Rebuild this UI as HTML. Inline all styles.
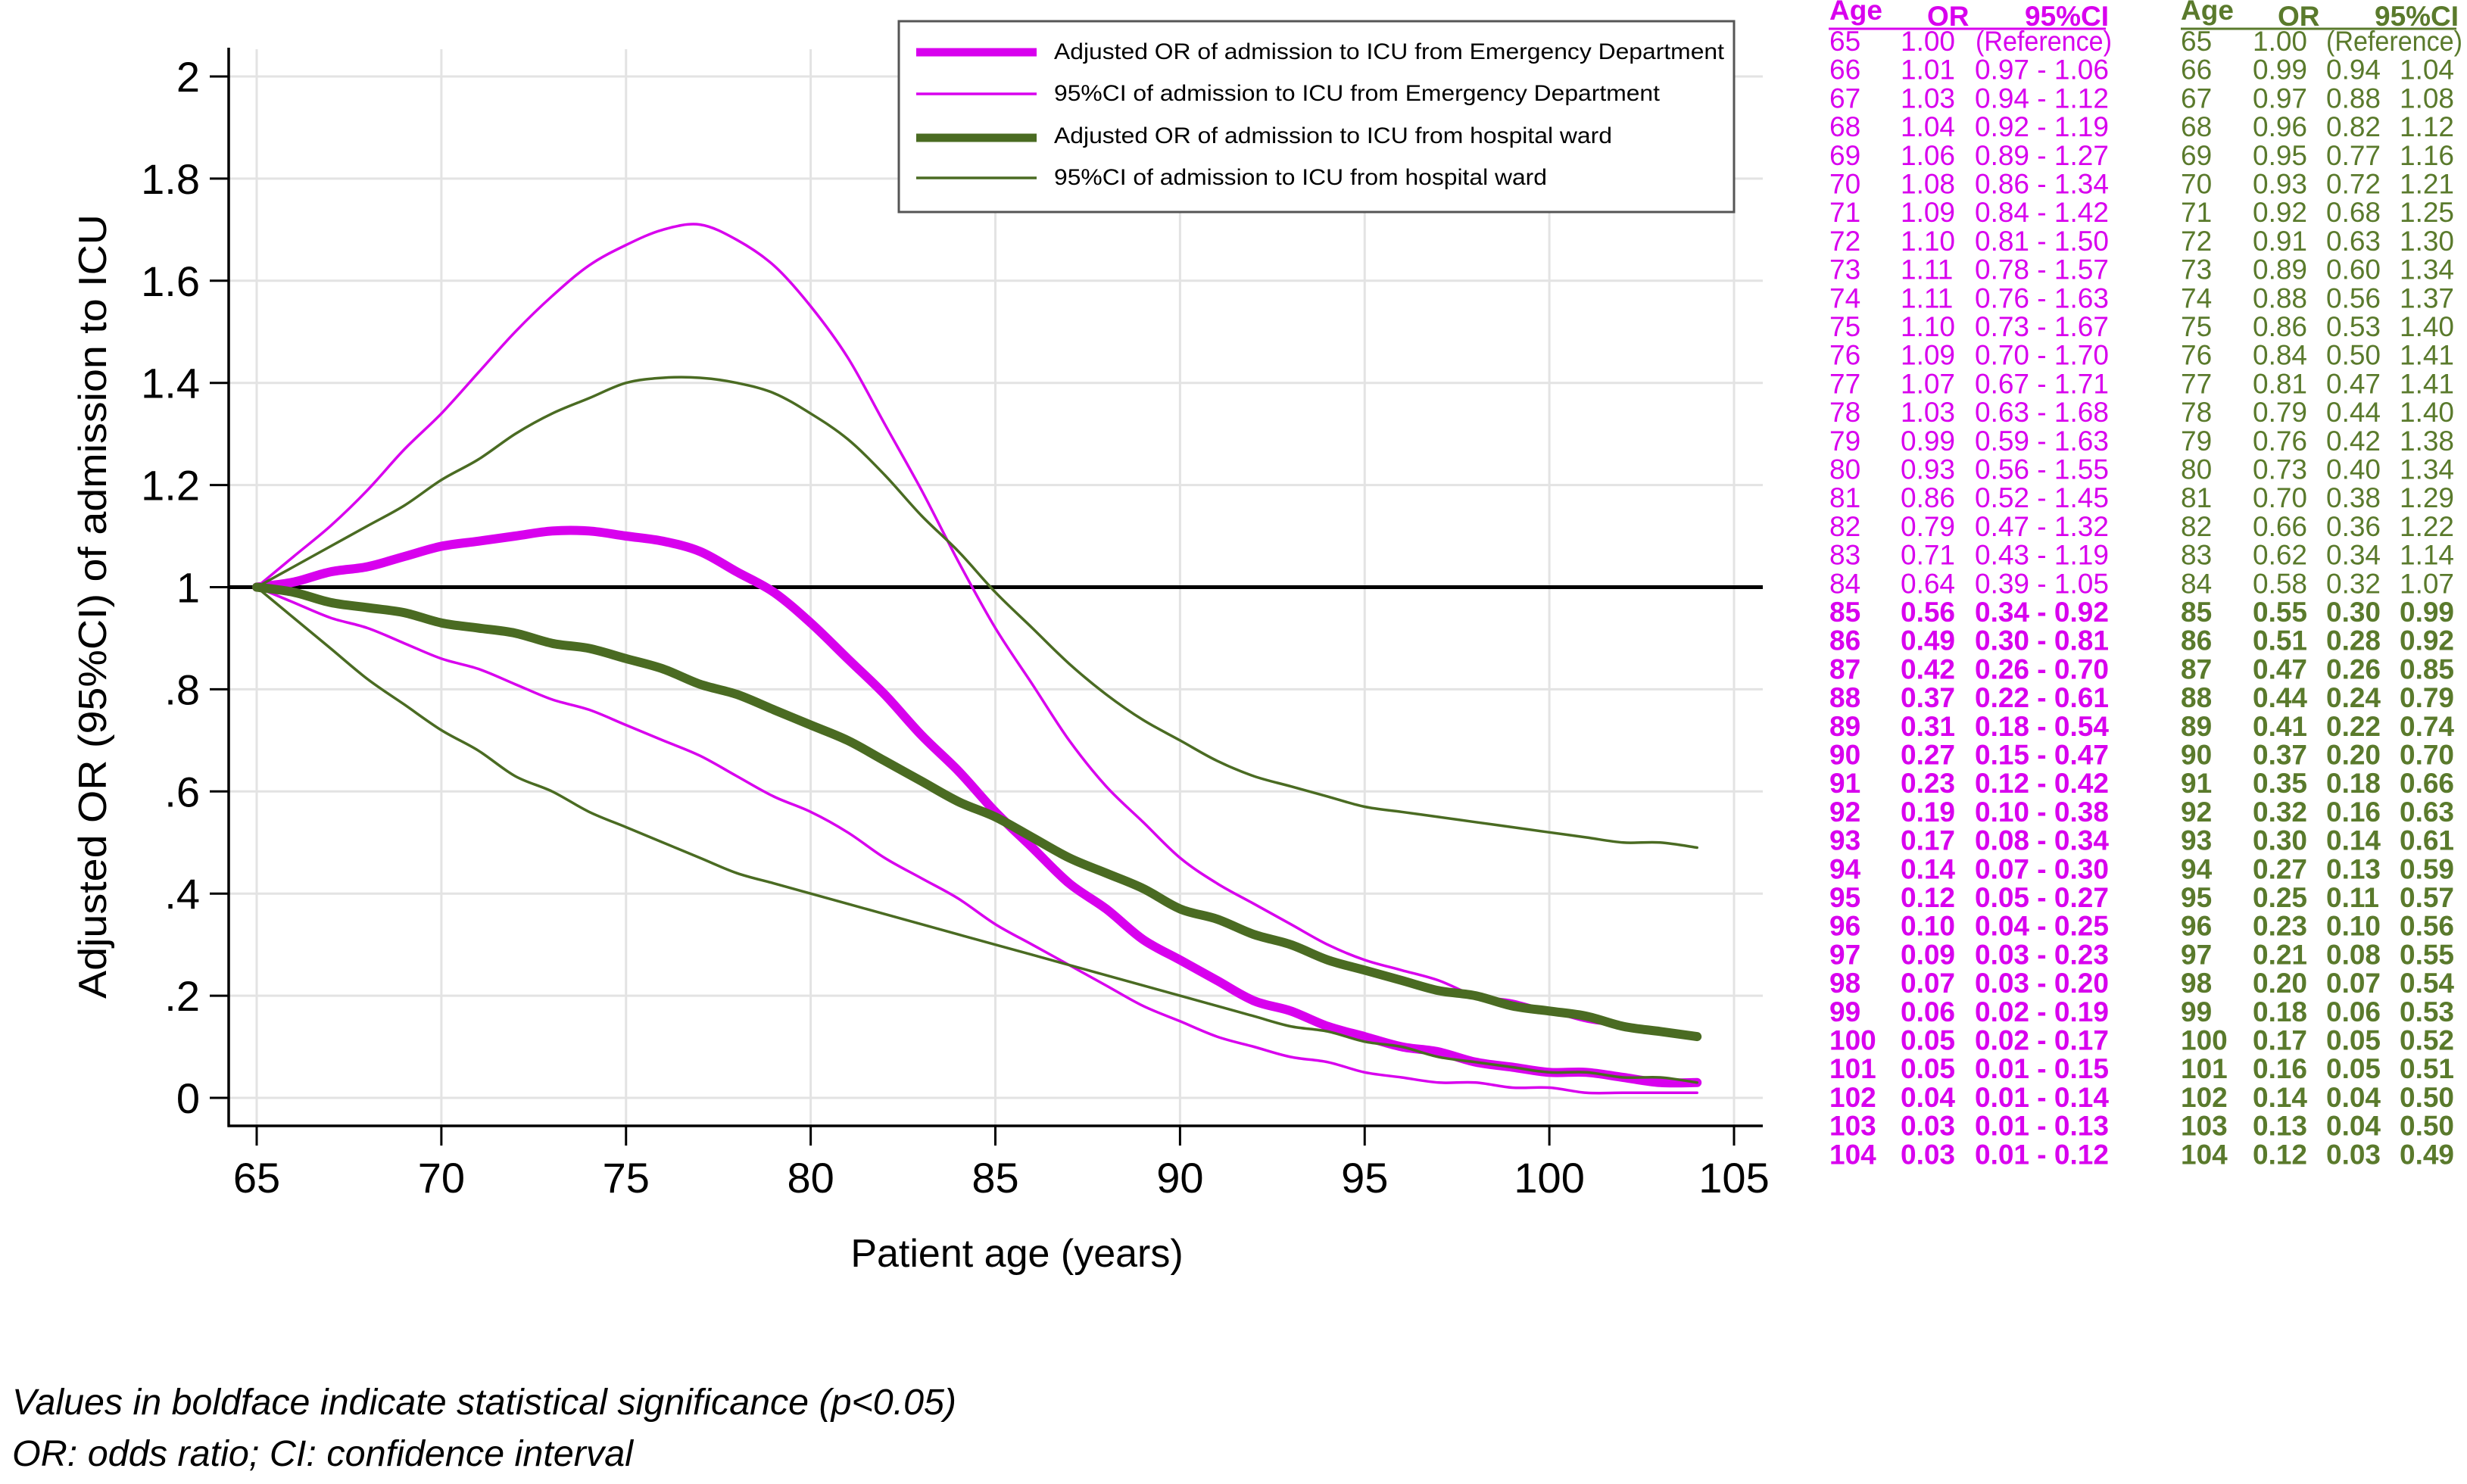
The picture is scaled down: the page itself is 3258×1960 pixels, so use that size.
<!DOCTYPE html>
<html><head><meta charset="utf-8">
<style>
html,body{margin:0;padding:0;background:#fff;}
svg{display:block;font-family:"Liberation Sans",Arial,sans-serif;}
</style></head>
<body>
<svg id="chart" width="3258" height="1960" viewBox="0 0 3258 1960" xmlns="http://www.w3.org/2000/svg">
<rect x="0" y="0" width="3258" height="1960" fill="#fff"/>
<g id="grid"></g>
<g id="series"></g>
<g id="axes"></g>
<text transform="translate(140,801) rotate(-90)" text-anchor="middle" font-size="52" textLength="1036" lengthAdjust="spacingAndGlyphs">Adjusted OR (95%CI) of admission to ICU</text>
<text x="1343" y="1673" text-anchor="middle" font-size="52">Patient age (years)</text>
<g>
  <rect x="1187" y="28" width="1103" height="252" fill="#fff" stroke="#555" stroke-width="3"/>
  <line x1="1210" y1="69" x2="1369" y2="69" stroke="#d800ee" stroke-width="11"/>
  <text x="1392" y="78" font-size="30" textLength="885" lengthAdjust="spacingAndGlyphs">Adjusted OR of admission to ICU from Emergency Department</text>
  <line x1="1210" y1="124" x2="1369" y2="124" stroke="#d800ee" stroke-width="3.5"/>
  <text x="1392" y="133" font-size="30" textLength="800" lengthAdjust="spacingAndGlyphs">95%CI of admission to ICU from Emergency Department</text>
  <line x1="1210" y1="182" x2="1369" y2="182" stroke="#4a6b22" stroke-width="11"/>
  <text x="1392" y="189" font-size="30" textLength="737" lengthAdjust="spacingAndGlyphs">Adjusted OR of admission to ICU from hospital ward</text>
  <line x1="1210" y1="235" x2="1369" y2="235" stroke="#4a6b22" stroke-width="3.5"/>
  <text x="1392" y="244" font-size="30" textLength="651" lengthAdjust="spacingAndGlyphs">95%CI of admission to ICU from hospital ward</text>
</g>
<g id="table"></g>
<text x="16" y="1868" font-size="48" font-style="italic" textLength="1247" lengthAdjust="spacingAndGlyphs">Values in boldface indicate statistical significance (p&lt;0.05)</text>
<text x="16" y="1936" font-size="48" font-style="italic" textLength="820" lengthAdjust="spacingAndGlyphs">OR: odds ratio; CI: confidence interval</text>
</svg>
<script>
const ages = [65,66,67,68,69,70,71,72,73,74,75,76,77,78,79,80,81,82,83,84,85,86,87,88,89,90,91,92,93,94,95,96,97,98,99,100,101,102,103,104];
const edOR = [1.00,1.01,1.03,1.04,1.06,1.08,1.09,1.10,1.11,1.11,1.10,1.09,1.07,1.03,0.99,0.93,0.86,0.79,0.71,0.64,0.56,0.49,0.42,0.37,0.31,0.27,0.23,0.19,0.17,0.14,0.12,0.10,0.09,0.07,0.06,0.05,0.05,0.04,0.03,0.03];
const edLo = [1.00,0.97,0.94,0.92,0.89,0.86,0.84,0.81,0.78,0.76,0.73,0.70,0.67,0.63,0.59,0.56,0.52,0.47,0.43,0.39,0.34,0.30,0.26,0.22,0.18,0.15,0.12,0.10,0.08,0.07,0.05,0.04,0.03,0.03,0.02,0.02,0.01,0.01,0.01,0.01];
const edHi = [1.00,1.06,1.12,1.19,1.27,1.34,1.42,1.50,1.57,1.63,1.67,1.70,1.71,1.68,1.63,1.55,1.45,1.32,1.19,1.05,0.92,0.81,0.70,0.61,0.54,0.47,0.42,0.38,0.34,0.30,0.27,0.25,0.23,0.20,0.19,0.17,0.15,0.14,0.13,0.12];
const wOR = [1.00,0.99,0.97,0.96,0.95,0.93,0.92,0.91,0.89,0.88,0.86,0.84,0.81,0.79,0.76,0.73,0.70,0.66,0.62,0.58,0.55,0.51,0.47,0.44,0.41,0.37,0.35,0.32,0.30,0.27,0.25,0.23,0.21,0.20,0.18,0.17,0.16,0.14,0.13,0.12];
const wLo = [1.00,0.94,0.88,0.82,0.77,0.72,0.68,0.63,0.60,0.56,0.53,0.50,0.47,0.44,0.42,0.40,0.38,0.36,0.34,0.32,0.30,0.28,0.26,0.24,0.22,0.20,0.18,0.16,0.14,0.13,0.11,0.10,0.08,0.07,0.06,0.05,0.05,0.04,0.04,0.03];
const wHi = [1.00,1.04,1.08,1.12,1.16,1.21,1.25,1.30,1.34,1.37,1.40,1.41,1.41,1.40,1.38,1.34,1.29,1.22,1.14,1.07,0.99,0.92,0.85,0.79,0.74,0.70,0.66,0.63,0.61,0.59,0.57,0.56,0.55,0.54,0.53,0.52,0.51,0.50,0.50,0.49];
const xTicks = [65,70,75,80,85,90,95,100,105];
const yTicks = [0,0.2,0.4,0.6,0.8,1,1.2,1.4,1.6,1.8,2];
const yTickLabels = ["0",".2",".4",".6",".8","1","1.2","1.4","1.6","1.8","2"];
const sigFrom = 85;

const NS = "http://www.w3.org/2000/svg";
const X0 = 339, X1 = 2290, Y0 = 1450, Y2 = 101;
function xs(a){ return X0 + (a - 65) * (X1 - X0) / 40; }
function ys(v){ return Y0 - v * (Y0 - Y2) / 2; }
function mk(tag, attrs, parent){
  const e = document.createElementNS(NS, tag);
  for (const k in attrs) e.setAttribute(k, attrs[k]);
  parent.appendChild(e);
  return e;
}
const grid = document.getElementById('grid');
const axes = document.getElementById('axes');
const series = document.getElementById('series');
const table = document.getElementById('table');
const PLOT_R = 2328, AXIS_X = 302, AXIS_Y = 1487;

yTicks.forEach((v, i) => {
  const g = mk('line', {x1: AXIS_X, x2: PLOT_R, y1: ys(v), y2: ys(v), stroke: '#e3e3e3', 'stroke-width': 3}, grid);
  
  
  const t = mk('line', {x1: 277, x2: AXIS_X, y1: ys(v), y2: ys(v), stroke: '#000', 'stroke-width': 3}, axes);
  
  
  const l = mk('text', {x: 264, y: ys(v) + 20, 'text-anchor': 'end', 'font-size': 56}, axes);
  l.textContent = yTickLabels[i];
  
  
});
xTicks.forEach(a => {
  const g = mk('line', {x1: xs(a), x2: xs(a), y1: 65, y2: AXIS_Y, stroke: '#e3e3e3', 'stroke-width': 3}, grid);
  
  
  const t = mk('line', {x1: xs(a), x2: xs(a), y1: AXIS_Y, y2: 1513, stroke: '#000', 'stroke-width': 3}, axes);
  
  
  const l = mk('text', {x: xs(a), y: 1575, 'text-anchor': 'middle', 'font-size': 56}, axes);
  l.textContent = a;
  
  
});
const ya = mk('line', {x1: AXIS_X, x2: AXIS_X, y1: 63, y2: AXIS_Y + 1.5, stroke: '#000', 'stroke-width': 3.5}, axes);


const xa = mk('line', {x1: AXIS_X - 1.5, x2: PLOT_R, y1: AXIS_Y, y2: AXIS_Y, stroke: '#000', 'stroke-width': 3.5}, axes);



const ref = mk('line', {x1: AXIS_X, x2: PLOT_R, y1: ys(1), y2: ys(1), stroke: '#000', 'stroke-width': 5}, series);



function curve(vals, color, w, name){
  const P = vals.map((v, i) => [xs(ages[i]), ys(v)]);
  let d = 'M' + P[0][0].toFixed(1) + ',' + P[0][1].toFixed(1);
  for (let i = 0; i < P.length - 1; i++) {
    const p0 = P[Math.max(0, i - 1)], p1 = P[i], p2 = P[i + 1], p3 = P[Math.min(P.length - 1, i + 2)];
    const c1x = p1[0] + (p2[0] - p0[0]) / 6, c1y = p1[1] + (p2[1] - p0[1]) / 6;
    const c2x = p2[0] - (p3[0] - p1[0]) / 6, c2y = p2[1] - (p3[1] - p1[1]) / 6;
    d += ' C' + c1x.toFixed(1) + ',' + c1y.toFixed(1) + ' ' + c2x.toFixed(1) + ',' + c2y.toFixed(1) + ' ' + p2[0].toFixed(1) + ',' + p2[1].toFixed(1);
  }
  const p = mk('path', {d: d, fill: 'none', stroke: color, 'stroke-width': w, 'stroke-linejoin': 'round', 'stroke-linecap': 'round'}, series);
  
  
}
const MAG = '#d800ee', GRN = '#4a6b22';
curve(edLo, MAG, 3.5, 'ed-ci-lower-line');
curve(edHi, MAG, 3.5, 'ed-ci-upper-line');
curve(edOR, MAG, 12, 'ed-or-line');
curve(wOR, GRN, 12, 'ward-or-line');
curve(wLo, GRN, 3.5, 'ward-ci-lower-line');
curve(wHi, GRN, 3.5, 'ward-ci-upper-line');

// table
const ROW0 = 67, DY = 37.7, FS = 37;
function txt(x, y, s, color, bold, name, len){
  const t = mk('text', {x: x, y: y, fill: color, 'font-size': FS, 'font-weight': bold ? 'bold' : 'normal'}, table);
  if (len) { t.setAttribute('textLength', len); t.setAttribute('lengthAdjust', 'spacingAndGlyphs'); }
  t.textContent = s;
  
  
}
const TM = '#d800ee', TG = '#5a7a2c';
txt(2416, 26, 'Age', TM, true, 'ed-table-header-age');
txt(2545, 34, 'OR', TM, true, 'ed-table-header-or');
txt(2674, 34, '95%CI', TM, true, 'ed-table-header-ci');
txt(2880, 26, 'Age', TG, true, 'ward-table-header-age');
txt(3008, 34, 'OR', TG, true, 'ward-table-header-or');
txt(3136, 34, '95%CI', TG, true, 'ward-table-header-ci');
const u1 = mk('line', {x1: 2415, x2: 2781, y1: 38, y2: 38, stroke: TM, 'stroke-width': 3}, table);


const u2 = mk('line', {x1: 2880, x2: 3244, y1: 38, y2: 38, stroke: TG, 'stroke-width': 3}, table);


ages.forEach((a, i) => {
  const y = ROW0 + i * DY, b = a >= sigFrom;
  txt(2416, y, String(a), TM, b, 'ed-table-age');
  txt(2510, y, edOR[i].toFixed(2), TM, b, 'ed-table-or');
  if (i === 0) {
    txt(2609, y, '(Reference)', TM, false, 'ed-table-ci', 180);
    txt(2880, y, String(a), TG, b, 'ward-table-age');
    txt(2975, y, wOR[i].toFixed(2), TG, b, 'ward-table-or');
    txt(3072, y, '(Reference)', TG, false, 'ward-table-ci', 180);
    return;
  }
  txt(2608, y, edLo[i].toFixed(2) + ' - ' + edHi[i].toFixed(2), TM, b, 'ed-table-ci');
  txt(2880, y, String(a), TG, b, 'ward-table-age');
  txt(2975, y, wOR[i].toFixed(2), TG, b, 'ward-table-or');
  txt(3072, y, wLo[i].toFixed(2), TG, b, 'ward-table-ci-lower');
  txt(3169, y, wHi[i].toFixed(2), TG, b, 'ward-table-ci-upper');
});
</script>
</body></html>
